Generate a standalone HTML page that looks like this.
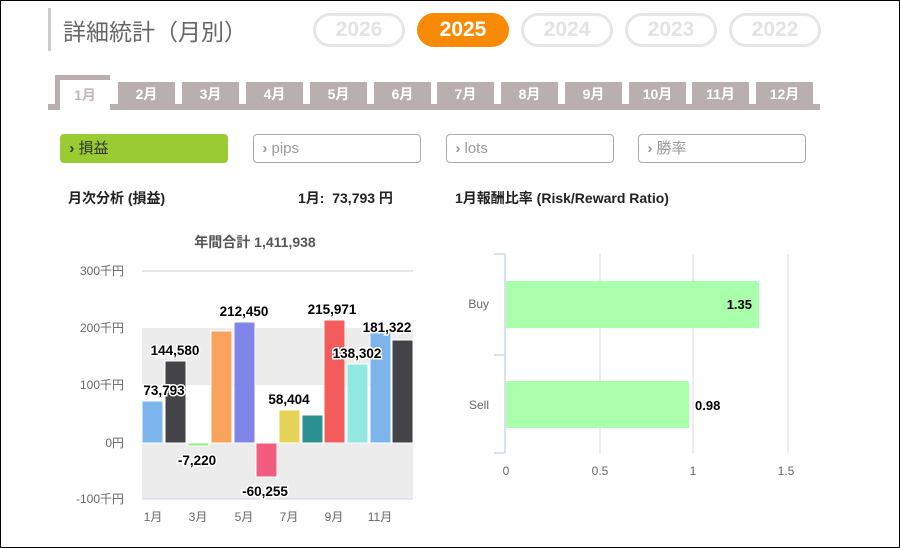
<!DOCTYPE html>
<html><head><meta charset="utf-8"><style>
body{margin:0;width:900px;height:548px;overflow:hidden;background:#fff;font-family:"Liberation Sans","Noto Sans CJK JP",sans-serif;}
.frame{position:absolute;left:0;top:0;width:898px;height:546px;border:1px solid #000;}
.a{position:absolute;}
.pill{position:absolute;top:13px;width:86px;height:28px;border:3px solid #e6e6e6;border-radius:18px;color:#e3e3e3;font-weight:bold;font-size:21px;text-align:center;line-height:28px;}
.tab{position:absolute;top:82px;height:22px;width:57px;background:#b9afaf;color:#fff;font-weight:bold;font-size:14px;text-align:center;line-height:24px;}
.btn{position:absolute;top:134px;width:166px;height:27px;border:1.5px solid #aaa;border-radius:4px;color:#999;font-size:15px;line-height:27px;box-sizing:content-box;}
</style></head><body>
<div class="frame"></div>
<div class="a" style="left:48px;top:8px;width:3px;height:43px;background:#ccc"></div>
<div class="a" style="left:63px;top:13px;font-size:23px;color:#666">詳細統計（月別）</div>
<div class="pill" style="left:313px">2026</div>
<div class="pill" style="left:417px;background:#f98a06;border-color:#f98a06;color:#fff">2025</div>
<div class="pill" style="left:521px">2024</div>
<div class="pill" style="left:625px">2023</div>
<div class="pill" style="left:729px">2022</div>
<div class="a" style="left:48px;top:104px;width:772px;height:6px;background:#b9afaf"></div>
<div class="a" style="left:55px;top:75px;width:55px;height:35px;background:#b9afaf"></div>
<div class="a" style="left:60px;top:80px;width:50px;height:30px;background:#fff;color:#c0b8b8;font-weight:bold;font-size:14px;text-align:center;line-height:30px">1月</div>
<div class="tab" style="left:118px">2月</div>
<div class="tab" style="left:182px">3月</div>
<div class="tab" style="left:246px">4月</div>
<div class="tab" style="left:310px">5月</div>
<div class="tab" style="left:374px">6月</div>
<div class="tab" style="left:437px">7月</div>
<div class="tab" style="left:501px">8月</div>
<div class="tab" style="left:565px">9月</div>
<div class="tab" style="left:629px">10月</div>
<div class="tab" style="left:692px">11月</div>
<div class="tab" style="left:756px">12月</div>
<div class="btn" style="left:60px;background:#99cc33;border-color:#99cc33;color:#333">&nbsp;&nbsp;<b>›</b> 損益</div>
<div class="btn" style="left:253px">&nbsp;&nbsp;<b>›</b> pips</div>
<div class="btn" style="left:446px">&nbsp;&nbsp;<b>›</b> lots</div>
<div class="btn" style="left:638px">&nbsp;&nbsp;<b>›</b> 勝率</div>
<div class="a" style="left:68px;top:188px;font-size:14px;font-weight:bold;color:#222">月次分析 (損益)</div>
<div class="a" style="left:298px;top:188px;font-size:14px;font-weight:bold;color:#222">1月:&nbsp; 73,793 円</div>
<div class="a" style="left:455px;top:188px;font-size:14px;font-weight:bold;color:#222">1月報酬比率 (Risk/Reward Ratio)</div>
<svg class="a" style="left:0;top:0" width="900" height="548" font-family="Liberation Sans,Noto Sans CJK JP,sans-serif">
<text x="255" y="247" font-size="14" font-weight="bold" fill="#555" text-anchor="middle">年間合計 1,411,938</text>
<rect x="142" y="328" width="271" height="57" fill="#ececec"/>
<rect x="142" y="443" width="271" height="56" fill="#ececec"/>
<line x1="142" y1="271" x2="413" y2="271" stroke="#e6e6e6" stroke-width="2"/>
<line x1="142" y1="499" x2="413" y2="499" stroke="#ccd6eb" stroke-width="1"/>
<g font-size="12" fill="#666" text-anchor="end">
<text x="124" y="275">300千円</text><text x="124" y="332">200千円</text><text x="124" y="389">100千円</text><text x="124" y="447">0円</text><text x="124" y="503">-100千円</text></g>
<g stroke="#fff" stroke-width="1">
<rect x="142" y="401" width="21" height="42" fill="#7cb5ec"/>
<rect x="165" y="361" width="21" height="82" fill="#434348"/>
<rect x="188" y="443" width="21" height="3" fill="#90ed7d"/>
<rect x="211" y="331" width="21" height="112" fill="#f7a35c"/>
<rect x="234" y="322" width="21" height="121" fill="#8085e9"/>
<rect x="256" y="443" width="21" height="34" fill="#f15c80"/>
<rect x="279" y="410" width="21" height="33" fill="#e4d354"/>
<rect x="302" y="415" width="21" height="28" fill="#2b908f"/>
<rect x="324" y="320" width="21" height="123" fill="#f45b5b"/>
<rect x="347" y="364" width="21" height="79" fill="#91e8e1"/>
<rect x="370" y="329" width="21" height="114" fill="#7cb5ec"/>
<rect x="392" y="340" width="21" height="103" fill="#434348"/>
</g>
<g font-size="13.5" font-weight="bold" fill="#000" text-anchor="middle" stroke="#fff" stroke-width="3" paint-order="stroke">
<text x="164" y="395">73,793</text><text x="175" y="355">144,580</text><text x="197" y="465">-7,220</text>
<text x="244" y="316">212,450</text><text x="265" y="496">-60,255</text><text x="289" y="404">58,404</text>
<text x="332" y="314">215,971</text><text x="357" y="358">138,302</text><text x="387" y="332">181,322</text></g>
<g font-size="12" fill="#666" text-anchor="middle">
<text x="153" y="521">1月</text><text x="198" y="521">3月</text><text x="244" y="521">5月</text><text x="289" y="521">7月</text><text x="334" y="521">9月</text><text x="380" y="521">11月</text></g>
<g stroke="#e6e6e6" stroke-width="1.5"><line x1="600" y1="254" x2="600" y2="453"/><line x1="693" y1="254" x2="693" y2="453"/><line x1="788" y1="254" x2="788" y2="453"/></g>
<g stroke="#ccd6eb" stroke-width="1.5"><line x1="505" y1="254" x2="505" y2="453"/><line x1="494" y1="254" x2="505" y2="254"/><line x1="494" y1="355" x2="505" y2="355"/><line x1="494" y1="453" x2="505" y2="453"/></g>
<rect x="506" y="281" width="253" height="47" fill="#aaffaa"/>
<rect x="506" y="381" width="183" height="47" fill="#aaffaa"/>
<g font-size="12" fill="#666" text-anchor="end"><text x="489" y="308">Buy</text><text x="489" y="409">Sell</text></g>
<g font-size="13" font-weight="bold" fill="#000"><text x="752" y="309" text-anchor="end">1.35</text><text x="695" y="410">0.98</text></g>
<g font-size="12" fill="#666" text-anchor="middle"><text x="506" y="475">0</text><text x="600" y="475">0.5</text><text x="693" y="475">1</text><text x="786" y="475">1.5</text></g>
</svg>
</body></html>
